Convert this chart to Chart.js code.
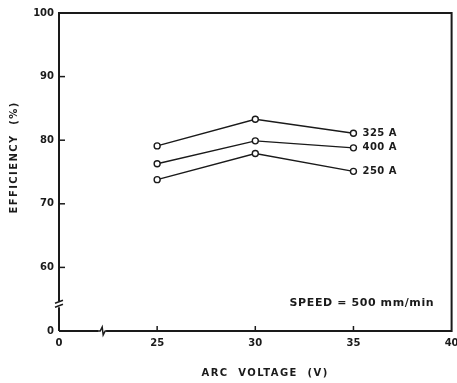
<!DOCTYPE html>
<html>
<head>
<meta charset="utf-8">
<script src="https://cdn.jsdelivr.net/npm/chart.js@4/dist/chart.umd.min.js"></script>
<style>
  html, body { margin:0; padding:0; background:#fff; }
  #wrap { width:457px; height:383px; }
</style>
</head>
<body>
<div id="wrap"><canvas id="chartEff"></canvas></div>
<script>
// Dados
const voltages   = [25, 30, 35];
const currents   = ['325 A', '400 A', '250 A'];
const eff325     = [79.1, 83.3, 81.1];
const eff400     = [76.3, 79.9, 78.8];
const eff250     = [73.8, 77.9, 75.1];
const xTicks     = [20, 25, 30, 35, 40];      // 20 aparece como "0" (eixo quebrado)
const yTicks     = [50, 60, 70, 80, 90, 100]; // 50 aparece como "0"
const xTitle     = 'ARC  VOLTAGE  (V)';
const yTitle     = 'EFFICIENCY  (%)';
const noteText   = 'SPEED = 500 mm/min';

const ink  = '#1a1a1a';
const font = { family:'DejaVu Sans', weight:'bold', size:10 };

// eixo quebrado: rótulo do mínimo vira 0
const tickLbl = (min) => v => v === min ? '0' : String(v);

// desenha bordas, ticks internos, quebras, títulos, rótulos das séries e nota
const decor = {
  id:'decor',
  afterDraw(chart) {
    const { ctx, chartArea:a, scales:{ x, y } } = chart;
    ctx.save();
    ctx.strokeStyle = ink; ctx.lineWidth = 2;
    ctx.beginPath();
    ctx.moveTo(a.left, a.bottom); ctx.lineTo(a.left, a.top);
    ctx.lineTo(a.right, a.top); ctx.lineTo(a.right, a.bottom);
    ctx.lineTo(a.left, a.bottom);
    ctx.stroke();

    // ticks para dentro
    ctx.lineWidth = 1.5;
    yTicks.slice(1, -1).forEach(v => {
      const py = y.getPixelForValue(v);
      ctx.beginPath(); ctx.moveTo(a.left, py); ctx.lineTo(a.left + 6, py); ctx.stroke();
    });
    xTicks.slice(1, -1).forEach(v => {
      const px = x.getPixelForValue(v);
      ctx.beginPath(); ctx.moveTo(px, a.bottom); ctx.lineTo(px, a.bottom - 5); ctx.stroke();
    });

    // quebra no eixo y
    const by = y.getPixelForValue(54.2);
    ctx.fillStyle = '#fff';
    ctx.fillRect(a.left - 3, by - 3, 6, 6);
    ctx.beginPath();
    ctx.moveTo(a.left - 4, by - 1); ctx.lineTo(a.left + 4, by - 4);
    ctx.moveTo(a.left - 4, by + 3); ctx.lineTo(a.left + 4, by);
    ctx.stroke();

    // quebra no eixo x
    const bx = x.getPixelForValue(22.2);
    ctx.fillRect(bx - 4, a.bottom - 3, 8, 6);
    ctx.beginPath();
    ctx.moveTo(bx - 6, a.bottom); ctx.lineTo(bx - 2, a.bottom);
    ctx.lineTo(bx, a.bottom - 4); ctx.lineTo(bx + 1, a.bottom + 4);
    ctx.lineTo(bx + 3, a.bottom); ctx.lineTo(bx + 6, a.bottom);
    ctx.stroke();

    // rótulos das correntes
    ctx.fillStyle = ink;
    ctx.font = 'bold 10px "DejaVu Sans"';
    ctx.letterSpacing = '0.5px';
    ctx.textBaseline = 'middle';
    chart.data.datasets.forEach((ds, i) => {
      const pt = chart.getDatasetMeta(i).data[ds.data.length - 1];
      ctx.fillText(ds.label, pt.x + 9, pt.y);
    });

    // nota de velocidade
    ctx.font = 'bold 11px "DejaVu Sans"';
    ctx.letterSpacing = '0.6px';
    ctx.fillText(noteText, a.right - 162, y.getPixelForValue(54.4));

    // títulos dos eixos
    ctx.font = 'bold 10px "DejaVu Sans"';
    ctx.letterSpacing = '1.4px';
    ctx.textAlign = 'center';
    ctx.fillText(xTitle, x.getPixelForValue(30.5), 373);
    ctx.translate(14, y.getPixelForValue(77.3));
    ctx.rotate(-Math.PI / 2);
    ctx.fillText(yTitle, 0, 0);
    ctx.restore();
  }
};

const el = document.getElementById('chartEff');
new Chart(el, {
  type:'line',
  data:{
    datasets:[
      { label:currents[0], data:voltages.map((v, i) => ({ x:v, y:eff325[i] })) },
      { label:currents[1], data:voltages.map((v, i) => ({ x:v, y:eff400[i] })) },
      { label:currents[2], data:voltages.map((v, i) => ({ x:v, y:eff250[i] })) }
    ].map(d => ({ ...d, borderColor:ink, borderWidth:1.4, pointRadius:3,
                  pointBorderWidth:1.4, pointBackgroundColor:'#fff', pointBorderColor:ink, tension:0 }))
  },
  options:{
    responsive:true, maintainAspectRatio:false, animation:false,
    layout:{ padding:{ top:13, right:5, left:0, bottom:0 } },
    plugins:{ legend:{ display:false }, tooltip:{ enabled:false } },
    scales:{
      x:{ type:'linear', min:20, max:40,
          afterBuildTicks:s => { s.ticks = xTicks.map(v => ({ value:v })); },
          afterFit:s => { s.height = 52; s.paddingLeft = 0; s.paddingRight = 0; },
          grid:{ display:false, drawTicks:false }, border:{ display:false },
          ticks:{ color:ink, font, padding:6, callback:tickLbl(20), maxRotation:0 } },
      y:{ min:50, max:100,
          afterBuildTicks:s => { s.ticks = yTicks.map(v => ({ value:v })); },
          afterFit:s => { s.width = 59; s.paddingTop = 0; s.paddingBottom = 0; },
          grid:{ display:false, drawTicks:false }, border:{ display:false },
          ticks:{ color:ink, font, padding:5, callback:tickLbl(50) } }
    }
  },
  plugins:[decor]
});
</script>
</body>
</html>
